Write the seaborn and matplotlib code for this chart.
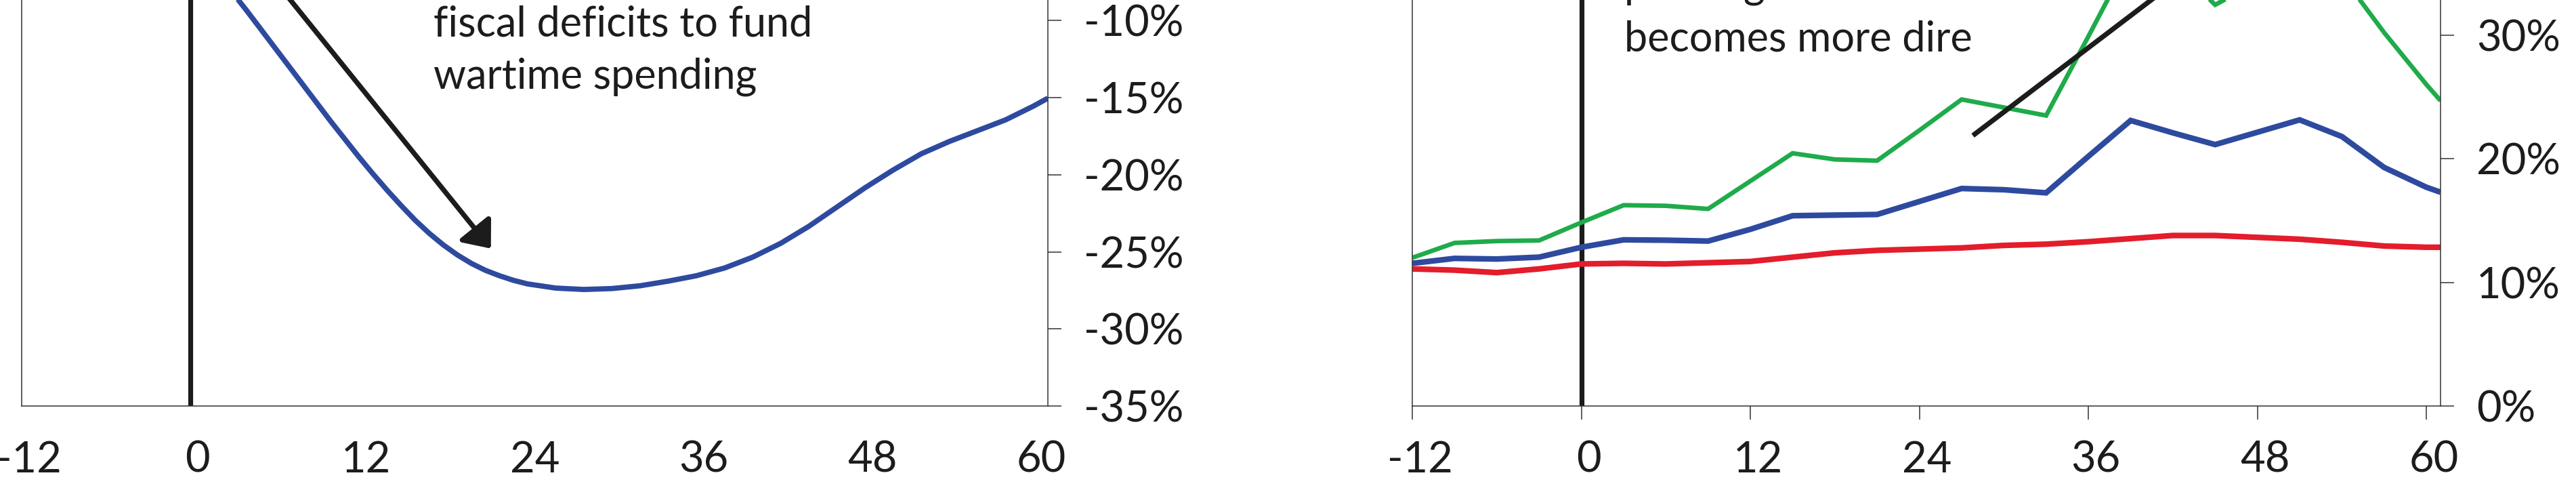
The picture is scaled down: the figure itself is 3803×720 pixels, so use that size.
import matplotlib
matplotlib.use("Agg")
import matplotlib.pyplot as plt
from matplotlib.transforms import ScaledTranslation
import pandas as pd
import seaborn as sns

# ---------------- data ----------------
# Left panel: fiscal balance path (% of GDP) by month relative to war start
left_months = [-12, -6, -3, 0, 2, 3, 4, 5, 6, 7, 8, 9, 10, 11, 12, 13, 14, 15, 16,
               17, 18, 19, 20, 21, 22, 23, 24, 26, 28, 30, 32, 34, 36, 38, 40, 42,
               44, 46, 48, 50, 52, 54, 56, 58, 60, 61]
left_values = [0.0, -1.0, -2.5, -5.0, -7.1, -8.2, -9.35, -10.55, -11.75, -12.95,
               -14.15, -15.35, -16.55, -17.7, -18.85, -19.95, -21.0, -22.0, -22.95,
               -23.8, -24.55, -25.2, -25.75, -26.2, -26.55, -26.85, -27.08, -27.35,
               -27.44, -27.38, -27.2, -26.9, -26.55, -26.05, -25.35, -24.45, -23.35,
               -22.1, -20.85, -19.7, -18.65, -17.85, -17.15, -16.45, -15.55, -15.05]

# Right panel: three series, quarterly readings
right_months = [-12, -9, -6, -3, 0, 3, 6, 9, 12, 15, 18, 21, 24, 27, 30, 33, 36, 39,
                42, 45, 48, 51, 54, 57, 60, 61]
red_values = [11.1, 11.0, 10.8, 11.1, 11.5, 11.55, 11.5, 11.6, 11.7, 12.05, 12.4, 12.6,
              12.7, 12.8, 13.0, 13.1, 13.3, 13.55, 13.8, 13.8, 13.65, 13.5, 13.25,
              12.95, 12.85, 12.85]
blue_values = [11.55, 11.95, 11.9, 12.05, 12.85, 13.45, 13.42, 13.35, 14.3, 15.4, 15.45,
               15.5, 16.55, 17.6, 17.5, 17.25, 20.2, 23.1, 22.1, 21.15, 22.15, 23.15,
               21.8, 19.3, 17.7, 17.3]
green_values = [12.0, 13.2, 13.35, 13.4, 14.85, 16.25, 16.2, 15.95, 18.2, 20.45, 19.95,
                19.85, 22.3, 24.8, 24.15, 23.5, 29.9, 36.4, 35.8, 32.45, 34.3, 36.5,
                34.8, 30.2, 26.0, 24.7]

x_ticks = [-12, 0, 12, 24, 36, 48, 60]
left_y_ticks = [-35, -30, -25, -20, -15, -10]
right_y_ticks = [0, 10, 20, 30]

left_text = ["fiscal deficits to fund", "wartime spending"]
right_text = ["printing as the situation", "becomes more dire"]

# ---------------- style ----------------
sns.set_theme(style="white")
plt.rcParams["font.family"] = ["Lato", "DejaVu Sans"]
plt.rcParams["axes.unicode_minus"] = False

BLUE = "#2e4a9f"
RED = "#e31d2b"
GREEN = "#1fab4b"
INK = "#1c1c1c"
SPINE = "#333333"
FS = 45.5
FS_TXT = 44

W, H = 3803, 720
fig = plt.figure(figsize=(W / 100, H / 100), dpi=100)
fig.patch.set_facecolor("white")

bottom = 120.7 / H
height = 1 - bottom
axL = fig.add_axes([31.6 / W, bottom, (1547 - 31.6) / W, height])
axR = fig.add_axes([2085 / W, bottom, (3603 - 2085) / W, height])

df_left = pd.DataFrame({"month": left_months, "value": left_values})
sns.lineplot(data=df_left, x="month", y="value", ax=axL, color=BLUE, linewidth=5.6,
             estimator=None, sort=False)

df_right = pd.DataFrame({"month": right_months, "red": red_values,
                         "blue": blue_values, "green": green_values})
sns.lineplot(data=df_right, x="month", y="green", ax=axR, color=GREEN, linewidth=4.8,
             estimator=None, sort=False)
sns.lineplot(data=df_right, x="month", y="blue", ax=axR, color=BLUE, linewidth=6.0,
             estimator=None, sort=False)
sns.lineplot(data=df_right, x="month", y="red", ax=axR, color=RED, linewidth=6.0,
             estimator=None, sort=False)
for ax in (axL, axR):
    for ln in ax.lines:
        ln.set_solid_joinstyle("miter")
        ln.set_solid_capstyle("butt")

axL.set_xlim(-12, 61)
axR.set_xlim(-12, 61)
axL.set_ylim(-35, -8.69)
axR.set_ylim(0, 32.84)

for ax, yt in ((axL, left_y_ticks), (axR, right_y_ticks)):
    ax.axvline(0, color=INK, linewidth=5.2, zorder=1)
    ax.set_xlabel("")
    ax.set_ylabel("")
    ax.set_xticks(x_ticks)
    ax.set_xticklabels([str(v) for v in x_ticks])
    ax.set_yticks(yt)
    ax.set_yticklabels([f"{v}%" for v in yt])
    ax.yaxis.tick_right()
    for side in ("left", "bottom", "right"):
        ax.spines[side].set_visible(True)
        ax.spines[side].set_color(SPINE)
        ax.spines[side].set_linewidth(1.1)
    ax.spines["top"].set_visible(False)
    ax.tick_params(axis="y", which="both", right=True, left=False, length=14.4,
                   width=1.1, color=SPINE, pad=24, labelsize=FS, labelcolor=INK)
    ax.tick_params(axis="x", which="both", bottom=True, length=14.4, width=1.1,
                   color=SPINE, pad=22, labelsize=FS, labelcolor=INK)
    ax.grid(False)
    ax.set_facecolor("white")
    for lab in ax.get_xticklabels():
        lab.set_transform(lab.get_transform() + ScaledTranslation(0.11, 0, fig.dpi_scale_trans))

# left panel shows no x tick marks
axL.tick_params(axis="x", color=(0, 0, 0, 0))

# annotations
axL.text(17.32, -11.03, left_text[0], fontsize=FS_TXT, color=INK, ha="left", va="baseline")
axL.text(17.32, -14.40, left_text[1], fontsize=FS_TXT, color=INK, ha="left", va="baseline")
axR.text(3.07, 33.03, right_text[0], fontsize=FS_TXT, color=INK, ha="left", va="baseline")
axR.text(3.07, 28.73, right_text[1], fontsize=FS_TXT, color=INK, ha="left", va="baseline")

axL.annotate("", xy=(21.39, -24.79), xytext=(3.24, -4.30), annotation_clip=False,
             arrowprops=dict(arrowstyle="-|>,head_length=22,head_width=18",
                             mutation_scale=1, color=INK, lw=5.3,
                             shrinkA=0, shrinkB=0))
axR.annotate("", xy=(49.95, 41.06), xytext=(27.8, 21.88), annotation_clip=False,
             arrowprops=dict(arrowstyle="-|>,head_length=22,head_width=18",
                             mutation_scale=1, color=INK, lw=5.3,
                             shrinkA=0, shrinkB=0, capstyle="butt"))

fig.savefig("out.png", dpi=100, facecolor="white")
